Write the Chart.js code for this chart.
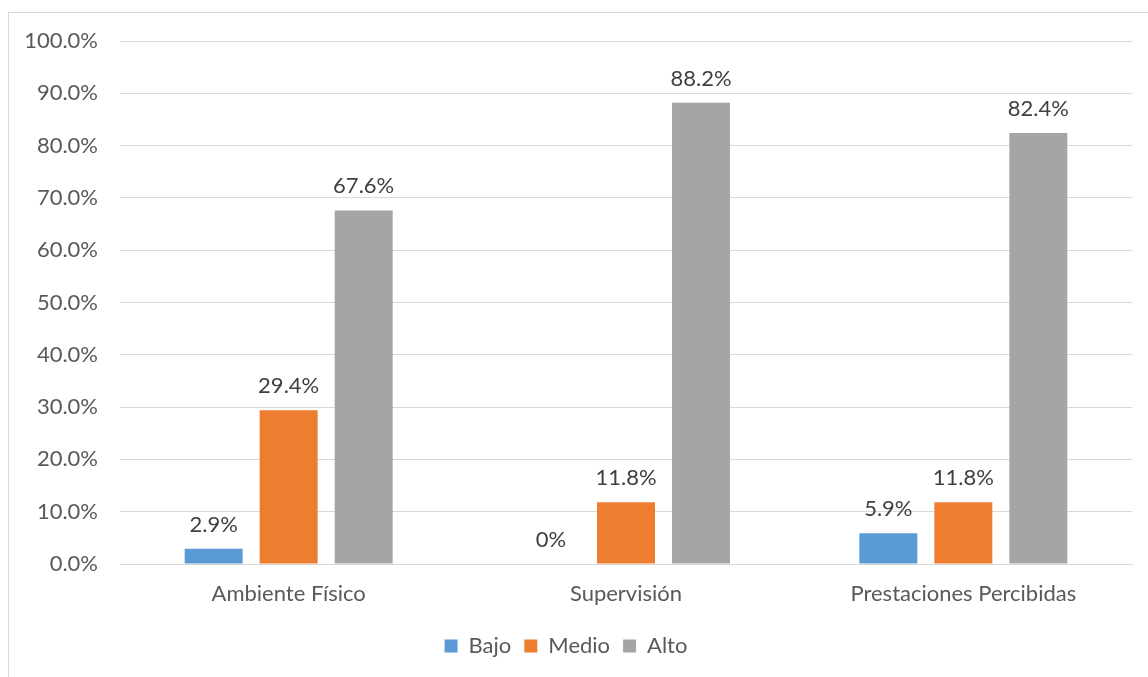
<!DOCTYPE html>
<html>
<head>
<meta charset="utf-8">
<script src="https://cdn.jsdelivr.net/npm/chart.js@4/dist/chart.umd.min.js"></script>
<style>
  html, body { margin: 0; padding: 0; background: #fff; }
  #wrap { position: relative; width: 1148px; height: 677px; overflow: hidden; }
  #frame { position: absolute; left: 8px; top: 12px; width: 1200px; height: 700px; border: 1px solid #d9d9d9; box-sizing: border-box; }
  canvas { position: absolute; left: 0; top: 0; }
</style>
</head>
<body>
<div id="wrap">
  <div id="frame"></div>
  <canvas id="grafico" width="1148" height="677"></canvas>
</div>
<script>
'use strict';

const categorias = ['Ambiente Físico', 'Supervisión', 'Prestaciones Percibidas'];
const bajo = [2.9, 0, 5.9];
const medio = [29.4, 11.8, 11.8];
const alto = [67.6, 88.2, 82.4];

const FUENTE = 'Lato, "Open Sans", sans-serif';
const TAM = 22;

// Etiqueta de valor encima de cada barra
const etiquetasValor = {
    id: 'etiquetasValor',
    afterDatasetsDraw(chart) {
        const ctx = chart.ctx;
        ctx.save();
        ctx.font = TAM + 'px ' + FUENTE;
        ctx.fillStyle = '#404040';
        ctx.textAlign = 'center';
        ctx.textBaseline = 'alphabetic';
        chart.data.datasets.forEach((ds, i) => {
            const meta = chart.getDatasetMeta(i);
            meta.data.forEach((bar, j) => {
                const v = ds.data[j];
                const txt = v === 0 ? '0%' : v.toFixed(1) + '%';
                ctx.fillText(txt, bar.x, bar.y - 17);
            });
        });
        ctx.restore();
    }
};

const ctx = document.getElementById('grafico').getContext('2d');
new Chart(ctx, {
    type: 'bar',
    data: {
        labels: categorias,
        datasets: [
            { label: 'Bajo', data: bajo, backgroundColor: '#5B9BD5' },
            { label: 'Medio', data: medio, backgroundColor: '#ED7D31' },
            { label: 'Alto', data: alto, backgroundColor: '#A5A5A5' }
        ]
    },
    options: {
        responsive: false,
        animation: false,
        categoryPercentage: 0.667,
        barPercentage: 0.773,
        layout: { padding: { top: 41, right: 16, left: 0, bottom: 10 } },
        plugins: {
            legend: {
                position: 'bottom',
                labels: {
                    font: { size: TAM, family: FUENTE },
                    color: '#595959',
                    boxWidth: 13,
                    boxHeight: 13,
                    padding: 13
                }
            },
            tooltip: { enabled: false }
        },
        scales: {
            x: {
                afterFit(scale) { scale.height = 58; },
                grid: { display: false, drawTicks: false },
                border: { color: '#d9d9d9' },
                ticks: { color: '#595959', font: { size: TAM, family: FUENTE }, padding: 17 }
            },
            y: {
                min: 0,
                max: 100,
                afterFit(scale) { scale.width = 120; },
                grid: { color: '#d9d9d9', drawTicks: false },
                border: { display: false },
                ticks: {
                    stepSize: 10,
                    color: '#595959',
                    font: { size: TAM, family: FUENTE },
                    padding: 22,
                    callback: v => v.toFixed(1) + '%'
                }
            }
        }
    },
    plugins: [etiquetasValor]
});
</script>
</body>
</html>
